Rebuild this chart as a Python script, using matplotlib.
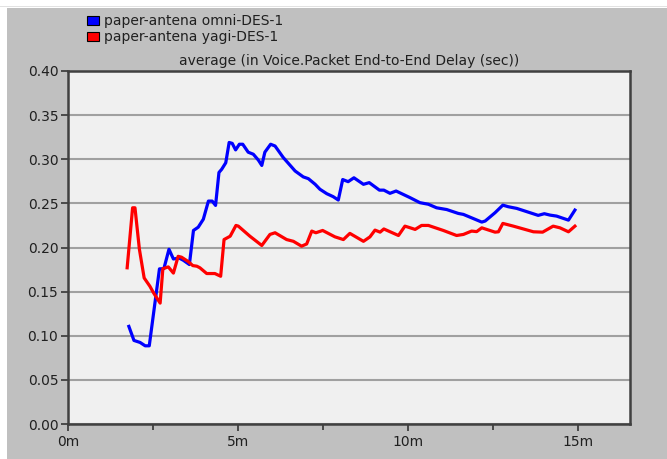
import matplotlib
matplotlib.use('Agg')
from matplotlib import pyplot as plt
from matplotlib.patches import Rectangle, Patch

# time in minutes, delay in seconds
omni_t = [1.79, 1.94, 2.12, 2.27, 2.39, 2.69, 2.82, 2.97, 3.10, 3.27, 3.39, 3.57,
          3.69, 3.83, 3.98, 4.13, 4.24, 4.34, 4.44, 4.52, 4.64, 4.74, 4.83, 4.93,
          5.04, 5.14, 5.30, 5.45, 5.60, 5.70, 5.79, 5.96, 6.09, 6.33, 6.68, 6.92,
          7.07, 7.27, 7.41, 7.61, 7.80, 7.95, 8.08, 8.24, 8.41, 8.69, 8.86, 9.16,
          9.29, 9.47, 9.65, 10.06, 10.35, 10.60, 10.84, 11.14, 11.48, 11.63, 12.17,
          12.27, 12.56, 12.79, 12.95, 13.20, 13.83, 14.01, 14.18, 14.37, 14.72, 14.91]
omni_delay = [0.1106, 0.0947, 0.0924, 0.0886, 0.0886, 0.1758, 0.176, 0.198, 0.187,
              0.188, 0.1856, 0.1807, 0.2193, 0.223, 0.232, 0.2526, 0.2526, 0.2477,
              0.285, 0.2886, 0.296, 0.319, 0.318, 0.3106, 0.317, 0.317, 0.308,
              0.3057, 0.299, 0.293, 0.308, 0.317, 0.315, 0.302, 0.2867, 0.280,
              0.278, 0.2716, 0.266, 0.261, 0.2576, 0.2538, 0.277, 0.2746, 0.279,
              0.2716, 0.2735, 0.265, 0.265, 0.2614, 0.264, 0.2565, 0.2508, 0.249,
              0.245, 0.243, 0.2386, 0.2375, 0.2288, 0.230, 0.2394, 0.248, 0.2462,
              0.2443, 0.2364, 0.2383, 0.2367, 0.2356, 0.231, 0.2424]

yagi_t = [1.74, 1.90, 1.97, 2.10, 2.24, 2.41, 2.51, 2.61, 2.71, 2.79, 2.95, 3.10,
          3.24, 3.34, 3.54, 3.67, 3.79, 3.88, 4.08, 4.32, 4.49, 4.59, 4.77, 4.94,
          5.01, 5.35, 5.70, 5.94, 6.09, 6.43, 6.63, 6.87, 7.02, 7.17, 7.29, 7.49,
          7.85, 8.10, 8.29, 8.69, 8.88, 9.03, 9.18, 9.29, 9.72, 9.91, 10.01, 10.21,
          10.40, 10.60, 11.04, 11.43, 11.63, 11.87, 12.02, 12.17, 12.56, 12.66,
          12.79, 13.10, 13.69, 13.96, 14.27, 14.47, 14.72, 14.91]
yagi_delay = [0.177, 0.245, 0.245, 0.198, 0.1655, 0.156, 0.149, 0.143, 0.137,
              0.176, 0.178, 0.171, 0.190, 0.189, 0.184, 0.1795, 0.1788, 0.177,
              0.1705, 0.1705, 0.1674, 0.209, 0.2128, 0.225, 0.2242, 0.2128, 0.2023,
              0.2148, 0.2167, 0.209, 0.207, 0.2015, 0.204, 0.2186, 0.2167, 0.2193,
              0.2121, 0.209, 0.216, 0.207, 0.212, 0.2197, 0.2174, 0.221, 0.2136,
              0.2242, 0.223, 0.2205, 0.225, 0.225, 0.2193, 0.2136, 0.2148, 0.2186,
              0.218, 0.2223, 0.2174, 0.2178, 0.2273, 0.2242, 0.2178, 0.2174, 0.2242,
              0.2223, 0.2178, 0.2242]

series_names = ['paper-antena omni-DES-1', 'paper-antena yagi-DES-1']
x_ticks = [0, 5, 10, 15]
x_labels = ['0m', '5m', '10m', '15m']
y_ticks = [0.00, 0.05, 0.10, 0.15, 0.20, 0.25, 0.30, 0.35, 0.40]

W, H = 667, 459
fig = plt.figure(figsize=(W / 100, H / 100), dpi=100)
fig.patch.set_facecolor('white')
fig.add_artist(Rectangle((7 / W, 0), 1, (H - 8) / H, transform=fig.transFigure,
                         facecolor='#c0c0c0', edgecolor='none', zorder=0))
fig.add_artist(Rectangle((0, (H - 7) / H), 1, 1 / H, transform=fig.transFigure,
                         facecolor='#e2e2e2', edgecolor='none', zorder=0))

ax = fig.add_axes([68 / W, 35 / H, 562 / W, 353 / H])
ax.set_facecolor('#f0f0f0')

ax.plot(omni_t, omni_delay, color='#0000ff', lw=2.3, solid_joinstyle='round')
ax.plot(yagi_t, yagi_delay, color='#ff0000', lw=2.3, solid_joinstyle='round')

ax.set_xlim(0, 16.53)
ax.set_ylim(0, 0.40)
ax.set_xticks(x_ticks)
ax.set_xticklabels(x_labels)
ax.set_xticks([2.5, 7.5, 12.5], minor=True)
ax.set_yticks(y_ticks)
ax.set_yticklabels(['%.2f' % v for v in y_ticks])
ax.yaxis.grid(True, color='#a0a0a0', lw=1.5)
ax.set_axisbelow(True)

for s in ax.spines.values():
    s.set_color('#404040')
    s.set_linewidth(1.8)
ax.tick_params(axis='both', which='both', direction='out', color='#404040',
               labelsize=10, labelcolor='#202020', width=1.3)
ax.tick_params(axis='both', which='major', length=5)
ax.tick_params(axis='x', which='minor', length=4)
ax.tick_params(axis='y', pad=2)
ax.tick_params(axis='x', pad=3)

ax.set_title('average (in Voice.Packet End-to-End Delay (sec))', fontsize=10,
             color='#202020', pad=4)

handles = [Patch(facecolor='#0000ff', edgecolor='black', lw=0.8),
           Patch(facecolor='#ff0000', edgecolor='black', lw=0.8)]
fig.legend(handles, series_names, loc='upper left', bbox_to_anchor=(87 / W, 1 - 14 / H),
           frameon=False, fontsize=10, handlelength=0.85, handleheight=0.6,
           handletextpad=0.4, labelspacing=0.15, borderpad=0, borderaxespad=0,
           labelcolor='#202020')

fig.savefig('out.png', dpi=100)
